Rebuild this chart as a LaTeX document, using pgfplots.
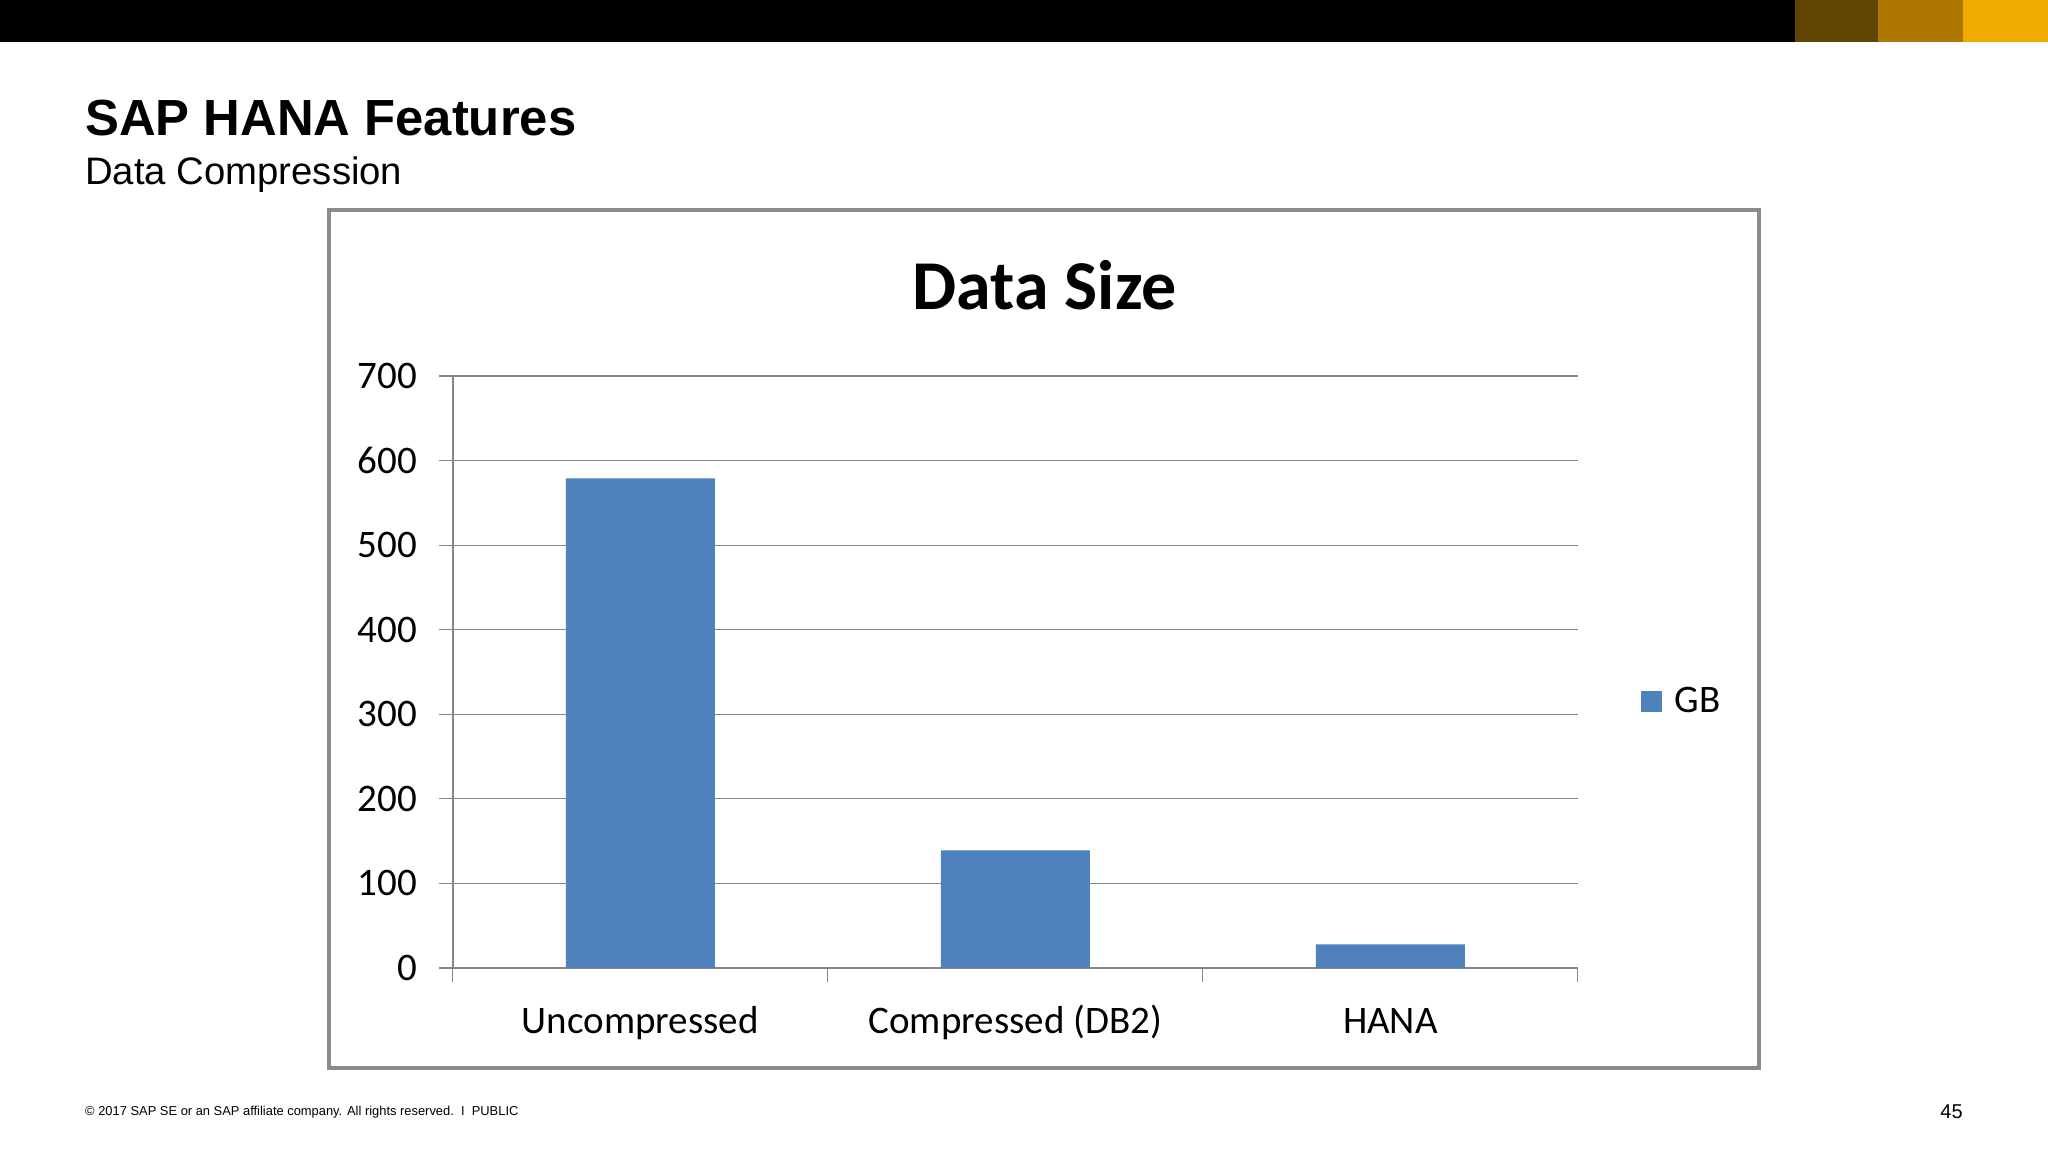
\documentclass[border=0pt]{standalone}
\usepackage{fontspec}
\setmainfont{Liberation Sans}
\newfontfamily\calibri{Carlito}
\usepackage{pgfplots}
\pgfplotsset{compat=1.18}

\definecolor{barblue}{HTML}{4F81BD}
\definecolor{gridgray}{HTML}{868686}
\definecolor{framegray}{HTML}{8C8C8C}
\definecolor{sapdark}{HTML}{604400}
\definecolor{sapmid}{HTML}{AE7800}
\definecolor{sapgold}{HTML}{F0AB00}

\begin{document}
\begin{tikzpicture}[x=1pt,y=1pt]
% page
\path[use as bounding box, fill=white] (0,0) rectangle (1024,576);
% header band
\fill[black] (0,555) rectangle (1024,576);
\fill[sapdark] (897.3,555) rectangle (939.1,576);
\fill[sapmid] (939.1,555) rectangle (981.6,576);
\fill[sapgold] (981.6,555) rectangle (1024,576);
% slide titles
\node[anchor=base west, inner sep=0pt, font=\bfseries\fontsize{25.4}{30}\selectfont] at (42.4,508.1) {SAP HANA Features};
\node[anchor=base west, inner sep=0pt, font=\fontsize{19.15}{23}\selectfont] at (42.4,483.9) {Data Compression};
% chart frame
\draw[framegray, line width=2pt] (164.6,41.8) rectangle (879.7,470.9);
\node[anchor=base, inner sep=0pt, font=\calibri\bfseries\fontsize{35}{40}\selectfont] at (522.4,421.2) {Data Size};

\begin{axis}[
  at={(226.4pt,92pt)}, anchor=south west,
  scale only axis, width=562.5pt, height=296pt,
  xmin=-0.5, xmax=2.5, ymin=0, ymax=700,
  axis x line*=bottom, axis y line*=left,
  axis line style={draw=gridgray, line width=0.7pt, -},
  ytick={0,100,...,700},
  ymajorgrids, grid style={draw=gridgray, line width=0.6pt},
  xtick={-0.5,0.5,1.5,2.5}, xticklabels={},
  extra x ticks={0,1,2},
  extra x tick labels={Uncompressed, Compressed (DB2), HANA},
  extra x tick style={major tick length=0pt, grid=none},
  tick align=outside, major tick length=6.8pt,
  tick style={draw=gridgray, line width=0.6pt},
  ticklabel style={font=\calibri\fontsize{19.5}{23}\selectfont},
  /pgf/number format/assume math mode=true,
  yticklabel style={anchor=east, inner sep=0pt, xshift=-11pt},
  xticklabel style={anchor=base, inner sep=0pt, yshift=-32.6pt},
  legend style={draw=none, fill=none, at={(axis description cs:1.0556,0.4503)}, anchor=west,
    inner sep=0pt, font=\calibri\fontsize{19.5}{23}\selectfont},
  legend image code/.code={\fill[#1] (0pt,-5.2pt) rectangle (10.4pt,5.2pt);},
]
\addplot[ybar, bar width=74.5pt, fill=barblue, draw=none] coordinates {(0,579) (1,139) (2,28)};
\addlegendentry{\hspace{4.5pt}GB}
\end{axis}

% footer
\node[anchor=base west, inner sep=0pt, font=\fontsize{6.45}{8}\selectfont] at (42.4,18.3) {\textcopyright\ 2017 SAP SE or an SAP affiliate company. All rights reserved.\ \ I\ \ PUBLIC};
\node[anchor=base east, inner sep=0pt, font=\fontsize{10}{12}\selectfont] at (981.5,17) {45};
\end{tikzpicture}
\end{document}
